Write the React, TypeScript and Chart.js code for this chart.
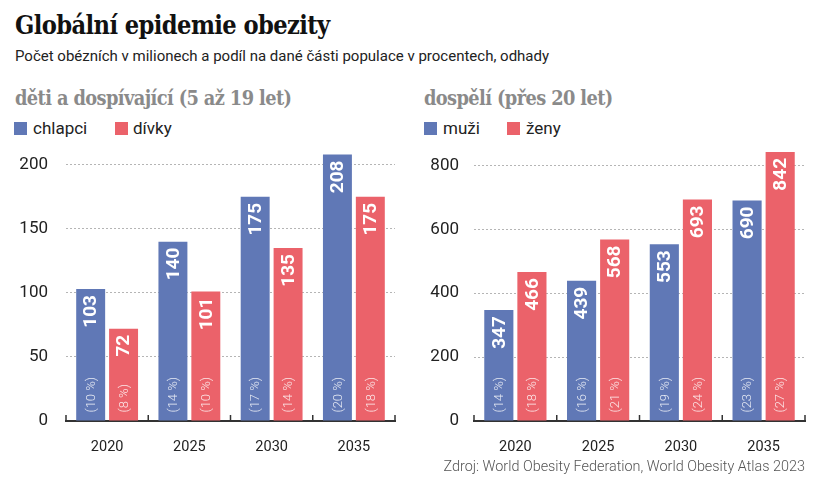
import React, { useEffect, useRef } from 'react';
import { Chart, registerables } from 'chart.js';
Chart.register(...registerables);

const years = ['2020', '2025', '2030', '2035'];
const boys = [103, 140, 175, 208];
const girls = [72, 101, 135, 175];
const boysPct = ['10', '14', '17', '20'];
const girlsPct = ['8', '10', '14', '18'];
const men = [347, 439, 553, 690];
const women = [466, 568, 693, 842];
const menPct = ['14', '16', '19', '23'];
const womenPct = ['18', '21', '24', '27'];
const leftTicks = [0, 50, 100, 150, 200];
const rightTicks = [0, 200, 400, 600, 800];

const BLUE = '#6078b6';
const RED = '#eb626a';
const SANS = 'Roboto, "Noto Sans", sans-serif';
const SERIF = '"DejaVu Serif Condensed", "DejaVu Serif", serif';

const axisTicksPlugin = {
  id: 'axisTicks',
  afterDraw(chart: any) {
    const xs = chart.scales.x;
    const ctx = chart.ctx;
    const n = xs.ticks.length;
    const half = (xs.getPixelForTick(1) - xs.getPixelForTick(0)) / 2;
    const yb = chart.chartArea.bottom;
    ctx.save();
    ctx.strokeStyle = '#333';
    ctx.lineWidth = 1.5;
    for (let i = 0; i <= n; i++) {
      const px = i < n ? xs.getPixelForTick(i) - half : xs.getPixelForTick(n - 1) + half;
      ctx.beginPath();
      ctx.moveTo(px, yb);
      ctx.lineTo(px, yb - 6);
      ctx.stroke();
    }
    ctx.restore();
  },
};

const barLabelsPlugin = {
  id: 'barLabels',
  afterDatasetsDraw(chart: any) {
    const ctx = chart.ctx;
    chart.data.datasets.forEach((ds: any, di: number) => {
      const meta = chart.getDatasetMeta(di);
      meta.data.forEach((bar: any, i: number) => {
        const { x, y, base } = bar.getProps(['x', 'y', 'base'], true);
        ctx.save();
        ctx.translate(x, y);
        ctx.rotate(-Math.PI / 2);
        ctx.fillStyle = '#ffffff';
        ctx.font = `bold 19px ${SANS}`;
        ctx.textAlign = 'right';
        ctx.textBaseline = 'middle';
        ctx.fillText(String(ds.data[i]), -6, 1);
        ctx.restore();

        ctx.save();
        ctx.translate(x, base);
        ctx.rotate(-Math.PI / 2);
        ctx.fillStyle = 'rgba(255,255,255,0.85)';
        ctx.font = `300 13px ${SANS}`;
        ctx.textAlign = 'left';
        ctx.textBaseline = 'middle';
        ctx.fillText(`(${ds.pct[i]} %)`, 8, 1);
        ctx.restore();
      });
    });
  },
};

type PanelProps = {
  a: number[];
  b: number[];
  pa: string[];
  pb: string[];
  la: string;
  lb: string;
  max: number;
  ticks: number[];
  yWidth: number;
  tickPad: number;
  topPad: number;
};

function Panel(p: PanelProps) {
  const ref = useRef<HTMLCanvasElement>(null);
  useEffect(() => {
    if (!ref.current) return;
    const chart = new Chart(ref.current, {
      type: 'bar',
      data: {
        labels: years,
        datasets: [
          { label: p.la, data: p.a, backgroundColor: BLUE, pct: p.pa, categoryPercentage: 0.8, barPercentage: 0.88 } as any,
          { label: p.lb, data: p.b, backgroundColor: RED, pct: p.pb, categoryPercentage: 0.8, barPercentage: 0.88 } as any,
        ],
      },
      options: {
        animation: false,
        responsive: false,
        layout: { padding: { top: p.topPad, right: 15, left: 0, bottom: 0 } },
        plugins: { legend: { display: false }, tooltip: { enabled: false }, title: { display: false } },
        scales: {
          x: {
            grid: { display: false },
            border: { display: true, color: '#333', width: 2 },
            ticks: { color: '#222', font: { family: SANS, size: 14.5 }, padding: 10 },
            afterFit: (s: any) => {
              s.height = 39;
              s.paddingLeft = 0;
              s.paddingRight = 0;
            },
          },
          y: {
            min: 0,
            max: p.max,
            grid: {
              drawTicks: false,
              color: (c: any) => (c.tick && c.tick.value === 0 ? 'rgba(0,0,0,0)' : '#b5b5b5'),
              lineWidth: 1,
            },
            border: { display: false, dash: [2, 2] },
            ticks: { color: '#222', font: { family: SANS, size: 17 }, padding: p.tickPad },
            afterBuildTicks: (s: any) => { s.ticks = p.ticks.map((v) => ({ value: v })); },
            afterFit: (s: any) => {
              s.width = p.yWidth;
              s.paddingTop = 0;
              s.paddingBottom = 0;
            },
          },
        },
      },
      plugins: [axisTicksPlugin, barLabelsPlugin],
    } as any);
    return () => chart.destroy();
  }, []);
  return <canvas ref={ref} width={410} height={320} style={{ display: 'block' }} />;
}

const abs = (left: number, top: number, extra: React.CSSProperties = {}): React.CSSProperties => ({
  position: 'absolute',
  left,
  top,
  whiteSpace: 'nowrap',
  ...extra,
});

function Legend({ x, items }: { x: number[]; items: { label: string; color: string; tx: number }[] }) {
  return (
    <>
      {items.map((it, i) => (
        <React.Fragment key={i}>
          <div style={abs(x[i], 122, { width: 13, height: 13, background: it.color })} />
          <div style={abs(it.tx, 120, { fontFamily: SANS, fontSize: 17, lineHeight: '17px', color: '#222' })}>{it.label}</div>
        </React.Fragment>
      ))}
    </>
  );
}

export default function App() {
  return (
    <div style={{ position: 'absolute', left: 0, top: 0, width: 820, height: 488, background: '#fff', overflow: 'hidden' }}>
      <div style={abs(15, 13, { fontFamily: SERIF, fontWeight: 'bold', fontSize: 25.2, lineHeight: '25px', color: '#111', letterSpacing: -0.6 })}>
        Globální epidemie obezity
      </div>
      <div style={abs(15, 49, { fontFamily: SANS, fontSize: 15, lineHeight: '15px', color: '#222' })}>
        Počet obézních v milionech a podíl na dané části populace v procentech, odhady
      </div>
      <div style={abs(15, 88, { fontFamily: SERIF, fontWeight: 'bold', fontSize: 19.8, lineHeight: '21px', color: '#8a8a8a', letterSpacing: -0.6 })}>
        děti a dospívající (5 až 19 let)
      </div>
      <div style={abs(424, 88, { fontFamily: SERIF, fontWeight: 'bold', fontSize: 19.8, lineHeight: '21px', color: '#8a8a8a', letterSpacing: -0.6 })}>
        dospělí (přes 20 let)
      </div>
      <Legend x={[14, 115]} items={[{ label: 'chlapci', color: BLUE, tx: 33 }, { label: 'dívky', color: RED, tx: 133 }]} />
      <Legend x={[424, 507]} items={[{ label: 'muži', color: BLUE, tx: 443 }, { label: 'ženy', color: RED, tx: 526 }]} />
      <div style={abs(0, 140)}>
        <Panel a={boys} b={girls} pa={boysPct} pb={girlsPct} la="chlapci" lb="dívky" max={210} ticks={leftTicks} yWidth={66} tickPad={18} topPad={12} />
      </div>
      <div style={abs(410, 140)}>
        <Panel a={men} b={women} pa={menPct} pb={womenPct} la="muži" lb="ženy" max={845} ticks={rightTicks} yWidth={64} tickPad={15} topPad={11} />
      </div>
      <div style={{ position: 'absolute', right: 15, top: 460, fontFamily: SANS, fontWeight: 300, fontSize: 14.4, lineHeight: '14px', color: '#555', whiteSpace: 'nowrap' }}>
        Zdroj: World Obesity Federation, World Obesity Atlas 2023
      </div>
    </div>
  );
}
